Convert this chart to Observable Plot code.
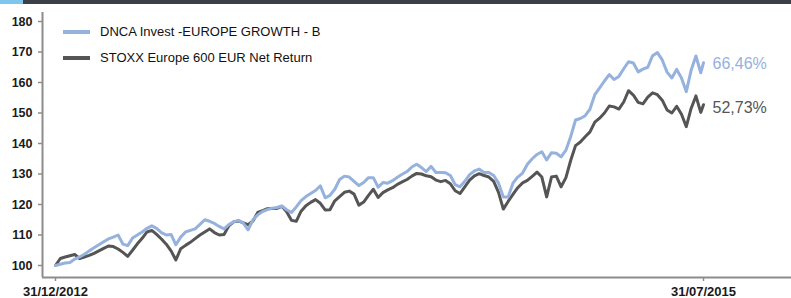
<!DOCTYPE html>
<html>
<head>
<meta charset="utf-8">
<script src="https://cdn.jsdelivr.net/npm/d3@7"></script>
<script src="https://cdn.jsdelivr.net/npm/@observablehq/plot@0.6"></script>
<style>
  body { margin: 0; background: #fff; font-family: "Liberation Sans", Arial, sans-serif; }
  #wrap { position: relative; width: 791px; height: 298px; overflow: hidden; background: #fff; }
  #band { position: relative; height: 4px; background: #3b4048; }
  #band .accent { position: absolute; left: 0; top: 0; width: 23px; height: 4px; background: #7fc6ee; }
  .sw { position: absolute; left: 63px; width: 27px; height: 4px; }
  .lt { position: absolute; left: 100px; font-size: 13px; line-height: 14px; color: #111; white-space: nowrap; }
  svg { display: block; }
</style>
</head>
<body>
<div id="wrap">
  <div id="band"><div class="accent"></div></div>
  <div id="chart"></div>
</div>
<script>
// ---- data ----
const startDate = "2012-12-31";
const endDate = "2015-07-31";
const seriesNames = ["DNCA Invest -EUROPE GROWTH - B", "STOXX Europe 600 EUR Net Return"];
const seriesColors = ["#95b1de", "#555555"];
const yTicks = [100, 110, 120, 130, 140, 150, 160, 170, 180];

// weekly values (base 100 on 31/12/2012), last value on 31/07/2015
const dncaValues = [
  100, 100.4, 100.8, 101, 102.1, 102.8, 103.7, 104.8, 105.8, 106.8,
  107.8, 108.7, 109.3, 110, 107, 106.5, 109, 110, 111, 112.2,
  113, 112.2, 110.8, 110, 110.2, 106.8, 109.3, 111, 111.5, 112,
  113.5, 115, 114.5, 113.8, 112.8, 112, 113.4, 114.3, 114.8, 113.9,
  111.7, 115, 116.6, 117.7, 118.3, 118.8, 119, 119.5, 118.3, 117.4,
  119.2, 121.3, 122.6, 123.6, 124.6, 126.1, 122.2, 123, 125, 128.2,
  129.3, 129, 127.6, 126.2, 127.2, 128.8, 128.8, 125.7, 127.2, 127,
  127.8, 128.9, 129.9, 130.8, 132.3, 133.2, 132.1, 130.8, 132.5, 130.5,
  130.5, 130.4, 129.5, 126.5, 125.8, 127.6, 129.8, 131, 131.6, 130.5,
  130.5, 129.5, 127, 122.5, 122.5, 127, 129, 130.3, 133.2, 135,
  136.4, 137.3, 134.6, 137, 136.8, 135.6, 137.8, 142.3, 147.7, 148.2,
  149.1, 151.3, 156, 158.2, 160.5, 162.6, 161, 162, 164.5, 166.8,
  166.4, 163.5, 164.4, 165, 168.8, 169.8, 167.4, 163.4, 161.5, 164.3,
  161.5, 157, 164, 168.7, 163.2, 166.46
];
const stoxxValues = [
  100, 102.3, 102.8, 103.2, 103.6, 102.3, 102.8, 103.3, 104, 104.8,
  105.6, 106.4, 106.2, 105.4, 104.3, 103, 105, 107.1, 108.9, 111,
  111.5, 110.2, 108.7, 107, 104.8, 101.8, 105.5, 106.6, 107.6, 108.8,
  110, 111, 112, 110.8, 110, 110.2, 113, 114.3, 114.6, 114,
  113.4, 114.6, 117.4, 118, 118.6, 118.7, 118.7, 119.4, 117.6, 114.8,
  114.5, 117.8, 119.6, 120.7, 121.6, 120.4, 118.2, 118.3, 121.2, 122.6,
  124, 124.4, 123.4, 119.8, 120.8, 123, 125, 122.3, 123.9, 124.8,
  125.5, 126.6, 127.4, 128.2, 129.3, 130.2, 130, 129.4, 129.1, 128,
  127.5, 127.9, 126.8, 124.5, 123.6, 125.8, 128, 129.4, 130.1, 129.5,
  129, 127.6, 124, 118.5, 121, 123.3, 125.5, 127.1, 127.9, 129.2,
  130.6, 129, 122.5, 129, 129.3, 125.8, 128.8, 134.5, 139.3, 140.5,
  142.2, 143.8, 147, 148.3, 150, 152.3, 152, 151.3, 153.6, 157.3,
  155.9, 153.5, 153, 155.2, 156.6, 156, 154.2, 151, 150, 152.2,
  149.6, 145.5, 151.5, 155.6, 150.2, 152.73
];

// ---- build table ----
const t0 = new Date(startDate + "T00:00:00Z");
const t1 = new Date(endDate + "T00:00:00Z");
const dates = dncaValues.map((_, i) => i === dncaValues.length - 1 ? t1 : d3.utcDay.offset(t0, 7 * i));
const seriesRows = [dncaValues, stoxxValues].map((vals, s) =>
  vals.map((v, i) => ({date: dates[i], value: v, series: seriesNames[s]})));
const lastRows = [dncaValues, stoxxValues].map((vals, s) => ({
  date: t1, value: vals[vals.length - 1], series: seriesNames[s],
  label: (vals[vals.length - 1] - 100).toFixed(2).replace(".", ",") + "%"
}));

// scale domains: 648 px between the two dates, axis spans 42..791
const msPerPx = (t1 - t0) / 648;
const xDomain = [new Date(+t0 - 13 * msPerPx), new Date(+t1 + 88 * msPerPx)];
const yDomain = [100 - 12 / 3.05, 100 + 253 / 3.05];

const chart = Plot.plot({
  width: 791,
  height: 294,
  marginLeft: 42,
  marginRight: 0,
  marginTop: 8,
  marginBottom: 21,
  style: {fontFamily: "'Liberation Sans', Arial, sans-serif", background: "#fff", overflow: "visible"},
  x: {type: "utc", domain: xDomain, axis: null},
  y: {domain: yDomain, axis: null},
  color: {domain: seriesNames, range: seriesColors},
  marks: [
    Plot.axisY({ticks: yTicks, label: null, tickSize: 4, tickPadding: 6, stroke: "#8c8c8c", strokeWidth: 1.5,
      fill: "#1a1a1a", fontSize: 12.5, fontWeight: "bold", tickFormat: d => String(d)}),
    Plot.axisX({ticks: [t0, t1], label: null, tickSize: 4, tickPadding: 5, stroke: "#8c8c8c", strokeWidth: 1.5,
      fill: "#1a1a1a", fontSize: 13, fontWeight: "bold", tickFormat: d3.utcFormat("%d/%m/%Y")}),
    Plot.ruleX([xDomain[0]], {stroke: "#8c8c8c", strokeWidth: 2}),
    Plot.ruleY([yDomain[0]], {stroke: "#8c8c8c", strokeWidth: 2}),
    Plot.line(seriesRows[1], {x: "date", y: "value", stroke: "series", strokeWidth: 3, strokeLinejoin: "round"}),
    Plot.line(seriesRows[0], {x: "date", y: "value", stroke: "series", strokeWidth: 3, strokeLinejoin: "round"}),
    Plot.text([lastRows[0]], {x: "date", y: "value", text: "label", fill: "series", dx: 9, dy: 1,
      textAnchor: "start", fontSize: 16}),
    Plot.text([lastRows[1]], {x: "date", y: "value", text: "label", fill: "series", dx: 9, dy: 3,
      textAnchor: "start", fontSize: 16})
  ]
});
document.getElementById("chart").appendChild(chart);

// legend (inside plot, top-left)
const wrap = document.getElementById("wrap");
const legendY = [32, 58];
seriesNames.forEach((name, i) => {
  const sw = document.createElement("div");
  sw.className = "sw";
  sw.style.top = (legendY[i] - 2) + "px";
  sw.style.background = seriesColors[i];
  wrap.appendChild(sw);
  const lt = document.createElement("div");
  lt.className = "lt";
  lt.style.top = (legendY[i] - 7) + "px";
  lt.textContent = name;
  wrap.appendChild(lt);
});
</script>
</body>
</html>
